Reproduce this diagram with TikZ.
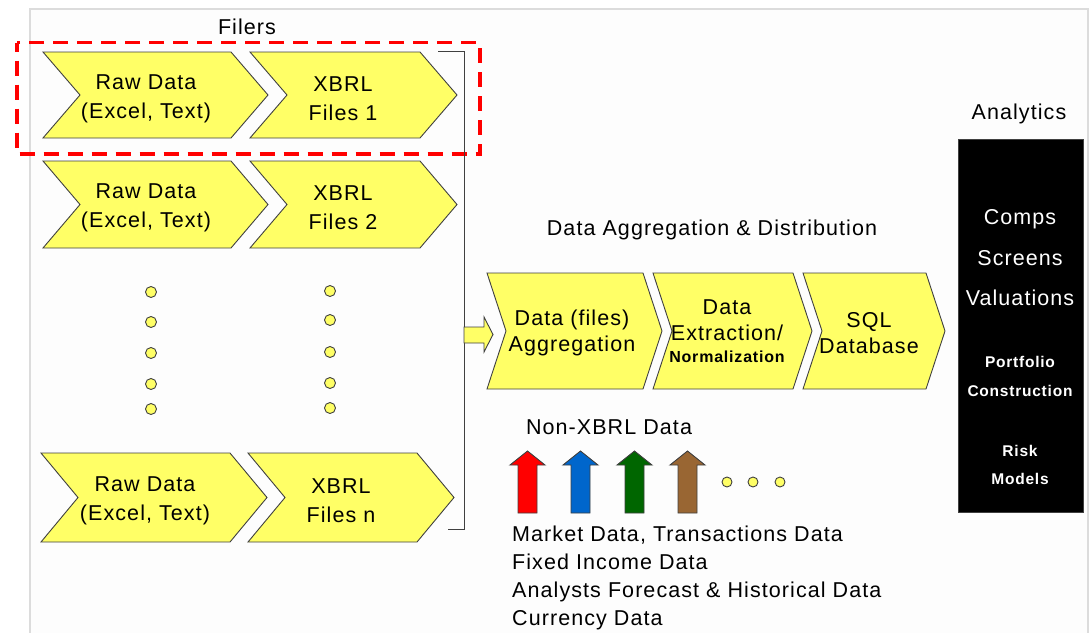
\documentclass[tikz,border=0pt]{standalone}
\usepackage{fontspec}
\setmainfont{Liberation Sans}[LetterSpace=5]
\definecolor{chevyellow}{RGB}{255,255,102}
\definecolor{edgegray}{RGB}{64,64,64}
\definecolor{framegray}{RGB}{220,220,220}
\definecolor{paper}{RGB}{253,253,253}
\definecolor{upred}{RGB}{255,0,0}
\definecolor{upblue}{RGB}{0,102,204}
\definecolor{upgreen}{RGB}{0,102,0}
\definecolor{upbrown}{RGB}{153,102,51}

% chevron: left x, top y, tip x, height, point depth
\newcommand\chevronpath[5]{%
  \draw[chev] (#1,#2) -- (#3-#5,#2) -- (#3,#2+#4/2) -- (#3-#5,#2+#4)
    -- (#1,#2+#4) -- (#1+#5,#2+#4/2) -- cycle;}
% upward block arrow: centre x, fill colour
\newcommand\uparrowpath[2]{%
  \draw[edgegray,line width=0.9pt,fill=#2,line join=miter]
    (#1-9.5,513) -- (#1-9.5,465) -- (#1-17.5,465) -- (#1,451)
    -- (#1+17.5,465) -- (#1+9.5,465) -- (#1+9.5,513) -- cycle;}

\begin{document}
\begin{tikzpicture}[x=1pt,y=-1pt,
  chev/.style={fill=chevyellow,draw=edgegray,line width=0.9pt,line join=miter},
  lbl/.style={font=\fontsize{21.5}{29}\selectfont,align=center,inner sep=0pt},
  midlbl/.style={font=\fontsize{21.5}{26}\selectfont,align=center,inner sep=0pt},
  head/.style={font=\fontsize{21.5}{26}\selectfont,inner sep=0pt},
  ydot/.style={circle,fill=chevyellow,draw=edgegray,line width=0.9pt,minimum size=11pt,inner sep=0pt},
  anbox/.style={fill=black,draw=edgegray,line width=0.8pt,minimum width=125pt,minimum height=373pt,inner sep=0pt},
  antext/.style={text=white,align=center,inner sep=0pt},
]
\useasboundingbox (0,0) rectangle (1089,632);
\fill[white] (0,0) rectangle (1089,632);
\fill[paper] (30,9) rectangle (1088,640);
\draw[framegray,line width=2pt] (30,640) -- (30,9) -- (1088,9) -- (1088,640);

% headings
\node[head] (filers) at (247,26.5) {Filers};
\node[head] (analyticstitle) at (1019,113.5) {Analytics};
\node[head] (aggtitle) at (712,229.5) {Data Aggregation \& Distribution};
\node[head] (nonxbrl) at (609,427.5) {Non-XBRL Data};

% filer rows
\chevronpath{43}{52}{268}{86}{37}
\chevronpath{250}{52}{457}{86}{37}
\node[lbl] (raw1) at (146,99) {Raw Data\\(Excel, Text)};
\node[lbl] (xbrl1) at (343,99) {XBRL\\Files 1};

\chevronpath{43}{161}{268}{87}{37}
\chevronpath{250}{161}{457}{87}{37}
\node[lbl] (raw2) at (146,208) {Raw Data\\(Excel, Text)};
\node[lbl] (xbrl2) at (343,208) {XBRL\\Files 2};

\chevronpath{41}{453}{267}{89}{37}
\chevronpath{248}{453}{454}{89}{37}
\node[lbl] (rawn) at (145,501) {Raw Data\\(Excel, Text)};
\node[lbl] (xbrln) at (341,501) {XBRL\\Files n};

% ellipsis dots between rows
\foreach \i/\y in {1/292,2/322,3/353,4/384,5/409}{
  \node[ydot] (ldot\i) at (151,\y) {};}
\foreach \i/\y in {1/291,2/320,3/352,4/383,5/408}{
  \node[ydot] (rdot\i) at (330,\y) {};}

% highlight of the first filer
\draw[red,line width=3.5pt,dash pattern=on 15pt off 9pt,dash phase=6pt]
  (17,42.5) rectangle (480,154);

% bracket collecting the filers
\coordinate (brtop) at (438,51);
\coordinate (brbot) at (448,529);
\draw[edgegray,line width=1pt] (brtop) -| (464,529) -- (brbot);

% feed arrow into aggregation
\draw[edgegray,line width=0.9pt,fill=chevyellow,line join=miter]
  (464,327) -- (484,327) -- (484,317) -- (493,334.5) -- (484,352)
  -- (484,343) -- (464,343) -- cycle;

% aggregation chain
\chevronpath{487}{273}{662}{116}{19}
\chevronpath{653}{273}{812}{116}{19}
\chevronpath{803}{273}{945}{116}{19}
\node[midlbl] (aggr) at (572,332.5) {Data (files)\\Aggregation};
\node[midlbl] (extract) at (727,331) {Data\\Extraction/\\[-4pt]{\bfseries\fontsize{16}{20}\selectfont Normalization}};
\node[midlbl] (sql) at (869,333) {SQL\\Database};

% non-XBRL inputs
\uparrowpath{527.5}{upred}
\uparrowpath{580.5}{upblue}
\uparrowpath{634.5}{upgreen}
\uparrowpath{687.5}{upbrown}
\node[ydot,minimum size=10pt] (mdot1) at (727,482) {};
\node[ydot,minimum size=10pt] (mdot2) at (753,482) {};
\node[ydot,minimum size=10pt] (mdot3) at (780,482) {};
\node[font=\fontsize{21.5}{28}\selectfont,align=left,inner sep=0pt,anchor=west] (sources) at (512,578)
  {Market Data, Transactions Data\\Fixed Income Data\\Analysts Forecast \& Historical Data\\Currency Data};

% analytics
\node[anbox] (analytics) at (1020.5,325.5) {};
\node[antext,font=\fontsize{21.5}{40.5}\selectfont] (uses) at (1020,258) {Comps\\Screens\\Valuations};
\node[antext,font=\bfseries\fontsize{15.5}{29}\selectfont] (portfolio) at (1020,376) {Portfolio\\Construction};
\node[antext,font=\bfseries\fontsize{15.5}{28}\selectfont] (risk) at (1020,465) {Risk\\Models};
\end{tikzpicture}
\end{document}
